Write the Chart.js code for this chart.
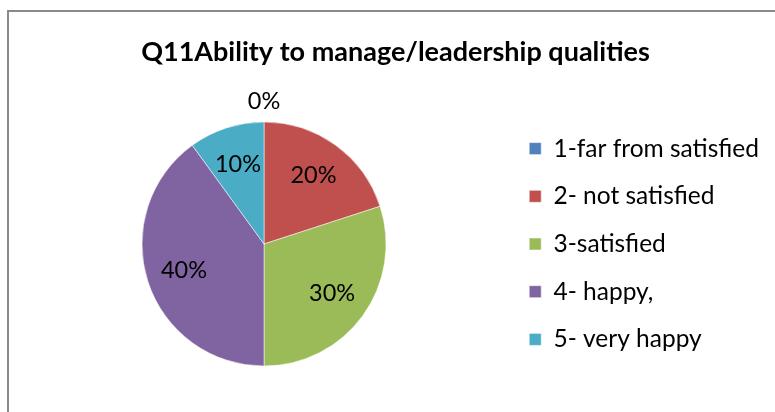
<!DOCTYPE html>
<html>
<head>
<meta charset="utf-8">
<script src="https://cdn.jsdelivr.net/npm/chart.js@4.4.1/dist/chart.umd.min.js"></script>
<style>
  html, body { margin: 0; padding: 0; background: #fff; }
  #wrap { position: relative; width: 775px; height: 412px; overflow: hidden; }
  #frame { position: absolute; left: 7px; top: 10px; width: 800px; height: 450px;
           border-left: 2px solid #8a8a8a; border-top: 2px solid #8a8a8a; }
  canvas { position: absolute; left: 0; top: 0; }
</style>
</head>
<body>
<div id="wrap">
  <div id="frame"></div>
  <canvas id="chart-canvas" width="775" height="412"></canvas>
</div>
<script>
"use strict";

let chartTitle = "Q11Ability to manage/leadership qualities";
let categories = ["1-far from satisfied", "2- not satisfied", "3-satisfied", "4- happy,", "5- very happy"];
let percentValues = [0, 20, 30, 40, 10];
let sliceColors = ["#4F81BD", "#C0504D", "#9BBB59", "#8064A2", "#4BACC6"];

let fontName = "Lato, 'Open Sans', sans-serif";

// draws the % labels on the slices, like excel "best fit"
let pieLabels = {
  id: "pieLabels",
  afterDatasetsDraw(chart) {
    let ctx = chart.ctx;
    let meta = chart.getDatasetMeta(0);
    let data = chart.data.datasets[0].data;
    let total = 0;
    for (let v of data) total += v;
    ctx.save();
    ctx.font = "23.5px " + fontName;
    ctx.fillStyle = "#000";
    ctx.textAlign = "center";
    ctx.textBaseline = "middle";
    meta.data.forEach(function (arc, i) {
      let p = arc.getProps(["x", "y", "startAngle", "endAngle", "outerRadius"], true);
      let mid = (p.startAngle + p.endAngle) / 2;
      let r = p.outerRadius * 0.69;
      if (data[i] === 0) r = p.outerRadius + 21;
      let x = p.x + Math.cos(mid) * r;
      let y = p.y + Math.sin(mid) * r;
      let pct = Math.round(data[i] / total * 100) + "%";
      ctx.fillText(pct, x, y);
    });
    ctx.restore();
  }
};

let ctx = document.getElementById("chart-canvas");
let chart = new Chart(ctx, {
  type: "pie",
  data: {
    labels: categories,
    datasets: [
      {
        data: percentValues,
        backgroundColor: sliceColors,
        borderColor: "rgba(255,255,255,0.5)",
        borderWidth: 1,
        radius: 122
      }
    ]
  },
  options: {
    responsive: false,
    animation: false,
    layout: { padding: { top: 10, left: 22, right: 6, bottom: 24 } },
    plugins: {
      tooltip: { enabled: false },
      title: {
        display: true,
        text: chartTitle,
        color: "#000",
        font: { family: fontName, size: 27, weight: "bold" },
        padding: { top: 25.8, bottom: 31.8 }
      },
      legend: {
        position: "right",
        align: "center",
        fullSize: false,
        labels: {
          color: "#000",
          font: { family: fontName, size: 24.5 },
          boxWidth: 12,
          boxHeight: 12,
          padding: 23.2
        }
      }
    }
  },
  plugins: [pieLabels]
});
</script>
</body>
</html>
